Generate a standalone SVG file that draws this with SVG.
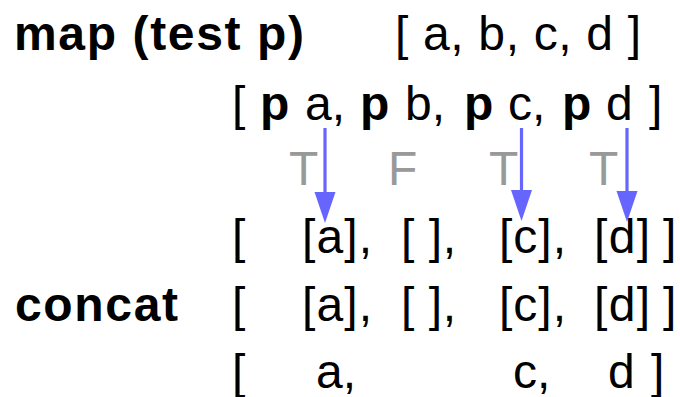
<svg xmlns="http://www.w3.org/2000/svg" width="680" height="397" viewBox="0 0 680 397">
  <style>
    text { font-family: "Liberation Sans", Arial, sans-serif; font-size: 48px; fill: #000; }
    .b { font-weight: bold; }
    .tf { fill: #999999; }
    .arrow { stroke: #6666ff; stroke-width: 3.2; fill: none; }
  </style>
  <defs>
    <marker id="head" markerUnits="userSpaceOnUse" markerWidth="32" markerHeight="22" refX="0" refY="10.5" orient="auto" viewBox="0 0 32 21">
      <path d="M0,0 L31,10.5 L0,21 z" fill="#6666ff"/>
    </marker>
  </defs>

  <g id="row-map">
    <text class="b" x="14" y="50" textLength="290" lengthAdjust="spacing">map (test p)</text>
    <text x="395" y="50" textLength="246" lengthAdjust="spacing">[ a, b, c, d ]</text>
  </g>

  <g id="row-applied">
    <text x="232" y="120">[</text>
    <text class="b" x="260" y="120">p</text>
    <text x="305" y="120">a,</text>
    <text class="b" x="360" y="120">p</text>
    <text x="405" y="120">b,</text>
    <text class="b" x="464" y="120">p</text>
    <text x="508" y="120">c,</text>
    <text class="b" x="562" y="120">p</text>
    <text x="606" y="120">d</text>
    <text x="649" y="120">]</text>
  </g>

  <g id="row-results">
    <text class="tf" x="289" y="185">T</text>
    <text class="tf" x="388" y="185">F</text>
    <text class="tf" x="489" y="185">T</text>
    <text class="tf" x="589" y="185">T</text>
  </g>

  <g id="row-lists">
    <text x="232" y="253">[</text>
    <text x="302" y="253" textLength="70" lengthAdjust="spacing">[a],</text>
    <text x="401" y="253" textLength="55" lengthAdjust="spacing">[ ],</text>
    <text x="499" y="253" textLength="67" lengthAdjust="spacing">[c],</text>
    <text x="594" y="253" textLength="56" lengthAdjust="spacing">[d]</text>
    <text x="663" y="253">]</text>
  </g>

  <g id="row-concat">
    <text class="b" x="15" y="321" textLength="163" lengthAdjust="spacing">concat</text>
    <text x="232" y="321">[</text>
    <text x="302" y="321" textLength="70" lengthAdjust="spacing">[a],</text>
    <text x="401" y="321" textLength="55" lengthAdjust="spacing">[ ],</text>
    <text x="499" y="321" textLength="67" lengthAdjust="spacing">[c],</text>
    <text x="594" y="321" textLength="56" lengthAdjust="spacing">[d]</text>
    <text x="663" y="321">]</text>
  </g>

  <g id="row-final">
    <text x="232" y="388">[</text>
    <text x="316" y="388">a,</text>
    <text x="513" y="388">c,</text>
    <text x="608" y="388">d</text>
    <text x="651" y="388">]</text>
  </g>

  <g id="connectors">
    <line class="arrow" x1="325" y1="128" x2="325" y2="192" marker-end="url(#head)"/>
    <line class="arrow" x1="521.5" y1="128" x2="521.5" y2="190" marker-end="url(#head)"/>
    <line class="arrow" x1="627" y1="128" x2="627" y2="191" marker-end="url(#head)"/>
  </g>
</svg>
